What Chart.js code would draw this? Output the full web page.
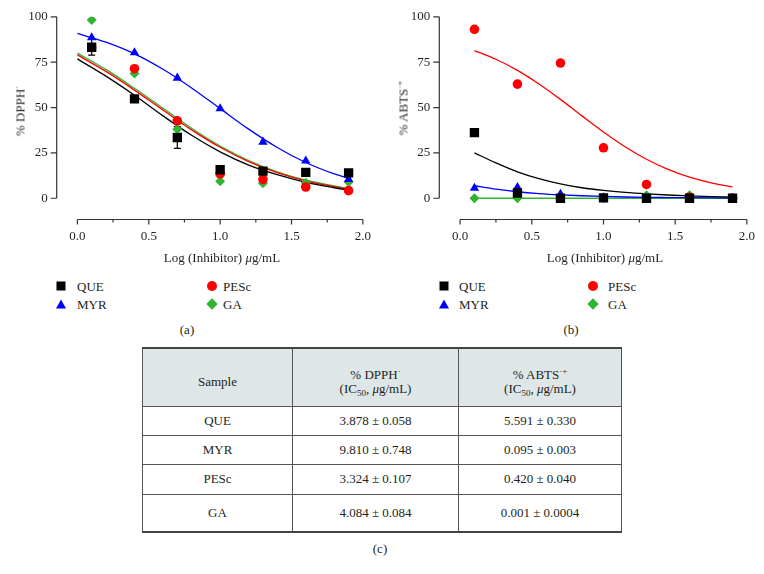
<!DOCTYPE html>
<html>
<head>
<meta charset="utf-8">
<script src="https://cdn.jsdelivr.net/npm/chart.js@4.4.0/dist/chart.umd.min.js"></script>
<style>
  body { margin: 0; width: 764px; height: 574px; position: relative; overflow: hidden; background: #fff;
         font-family: "Liberation Serif", "DejaVu Serif", serif; color: #231f20; }
  canvas { position: absolute; top: 0; }
  .t { position: absolute; white-space: nowrap; font-size: 13px; line-height: 1; }
  .c { transform: translate(-50%, -50%); }
  .l { transform: translateY(-50%); }
  .rot { transform: translate(-50%, -50%) rotate(-90deg); }
  sup { font-size: 9px; line-height: 0; vertical-align: 5px; }
  sub { font-size: 9px; line-height: 0; vertical-align: -3px; }
  .mk { position: absolute; }
  .sq { width: 9px; height: 9px; background: #000; transform: translate(-50%, -50%); }
  .ci { width: 10px; height: 10px; border-radius: 50%; background: #ff0000; transform: translate(-50%, -50%); }
  .tr { width: 0; height: 0; border-left: 5px solid transparent; border-right: 5px solid transparent;
        border-bottom: 9px solid #0000ff; transform: translate(-50%, -50%); }
  .di { width: 8px; height: 8px; background: #2fb52f; transform: translate(-50%, -50%) rotate(45deg); }
  table { position: absolute; left: 142px; top: 347px; width: 479px; border-collapse: collapse;
          font-size: 13px; text-align: center; table-layout: fixed; }
  th, td { border: 1px solid #555; padding: 0; font-weight: normal; }
  thead tr { background: #dfe6e8; height: 58px; }
  th { padding-top: 10px; line-height: 14px; }
  thead tr th { border-top: 2px solid #444; }
  tbody tr:last-child td { border-bottom: 2px solid #444; }
</style>
</head>
<body>
<canvas id="chartA" width="380" height="250" style="left:0"></canvas>
<canvas id="chartB" width="382" height="250" style="left:382px"></canvas>

<div class="t rot" style="left:20px; top:111px">% DPPH<sup>·</sup></div>
<div class="t rot" style="left:403px; top:108px">% ABTS<sup>·+</sup></div>
<div class="t c" style="left:222px; top:257px">Log (Inhibitor) <i>μ</i>g/mL</div>
<div class="t c" style="left:605px; top:257px">Log (Inhibitor) <i>μ</i>g/mL</div>

<div class="mk sq" style="left:61px; top:286px"></div><div class="t l" style="left:77px; top:286px">QUE</div>
<div class="mk tr" style="left:61px; top:304px"></div><div class="t l" style="left:77px; top:304px">MYR</div>
<div class="mk ci" style="left:212px; top:286px"></div><div class="t l" style="left:223px; top:286px">PESc</div>
<div class="mk di" style="left:212px; top:304px"></div><div class="t l" style="left:223px; top:304px">GA</div>

<div class="mk sq" style="left:444px; top:286px"></div><div class="t l" style="left:459px; top:286px">QUE</div>
<div class="mk tr" style="left:444px; top:304px"></div><div class="t l" style="left:459px; top:304px">MYR</div>
<div class="mk ci" style="left:593px; top:286px"></div><div class="t l" style="left:608px; top:286px">PESc</div>
<div class="mk di" style="left:593px; top:304px"></div><div class="t l" style="left:608px; top:304px">GA</div>

<div class="t c" style="left:187px; top:329px">(a)</div>
<div class="t c" style="left:571px; top:329px">(b)</div>

<table>
  <colgroup><col style="width:150px"><col style="width:166px"><col style="width:163px"></colgroup>
  <thead>
    <tr>
      <th>Sample</th>
      <th>% DPPH<sup>·</sup><br>(IC<sub>50</sub>, <i>μ</i>g/mL)</th>
      <th>% ABTS<sup>·+</sup><br>(IC<sub>50</sub>, <i>μ</i>g/mL)</th>
    </tr>
  </thead>
  <tbody id="tbody"></tbody>
</table>
<div class="t c" style="left:380px; top:548px">(c)</div>

<script>
// x positions of the measured points (log concentration)
const logDose = [0.1, 0.4, 0.7, 1.0, 1.3, 1.6, 1.9];

// (a) DPPH scavenging, %
const queDpph = [83.2, 54.8, 33.5, 15.7, 15.0, 14.3, 14.0];
const queDpphErr = [4.3, 0, 6.0, 0, 0, 0, 0];
const myrDpph = [88.5, 80.3, 66.3, 49.4, 31.0, 20.6, 10.5];
const pescDpph = [83.0, 71.4, 42.7, 13.4, 10.4, 6.2, 4.2];
const gaDpph = [98.3, 68.8, 38.0, 9.4, 8.3, 8.6, 9.0];

// (a) fitted curves
const fitXA = [0, 0.2, 0.4, 0.6, 0.8, 1.0, 1.2, 1.4, 1.6, 1.8, 1.9];
const queFitA = [76.8, 67.3, 56.8, 45.4, 34.7, 25.6, 18.3, 13.0, 8.8, 5.8, 4.5];
const myrFitA = [90.8, 86.0, 79.6, 71.1, 60.8, 49.4, 38.1, 28.0, 19.7, 13.4, 11.0];
const pescFitA = [79.0, 69.9, 59.6, 48.6, 37.7, 28.1, 20.2, 14.1, 9.6, 6.4, 5.0];
const gaFitA = [80.0, 71.0, 60.6, 49.6, 38.6, 28.8, 20.8, 14.6, 10.0, 6.8, 5.4];

// (b) ABTS scavenging, %
const queAbts = [36.2, 2.9, 0, 0.2, 0, 0, 0];
const myrAbts = [5.6, 6.0, 2.3, 0.4, 0, 0, 0];
const pescAbts = [93.1, 62.9, 74.5, 27.8, 7.6, 0.6, 0];
const gaAbts = [0, 0, 0, 0, 1.6, 1.6, 0];

// (b) fitted curves
const fitXB = [0.1, 0.25, 0.4, 0.55, 0.7, 0.85, 1.0, 1.15, 1.3, 1.45, 1.6, 1.75, 1.9];
const queFitB = [25.0, 19.5, 14.6, 10.8, 7.9, 5.8, 4.3, 3.2, 2.4, 1.8, 1.3, 0.9, 0.6];
const myrFitB = [6.9, 5.0, 3.6, 2.6, 1.9, 1.4, 1.0, 0.7, 0.5, 0.4, 0.3, 0.2, 0.1];
const pescFitB = [81.4, 76.6, 70.5, 63.0, 54.5, 45.4, 36.5, 28.4, 21.5, 15.9, 11.6, 8.5, 6.3];
const gaFitB = [0, 0, 0, 0, 0, 0, 0, 0, 0, 0, 0, 0, 0];

// axis ticks
const xTicks = [0, 0.5, 1.0, 1.5, 2.0];
const xMinorTicks = [0.25, 0.75, 1.25, 1.75];
const yTicks = [0, 25, 50, 75, 100];

// table (c)
const samples = ['QUE', 'MYR', 'PESc', 'GA'];
const ic50Dpph = ['3.878 ± 0.058', '9.810 ± 0.748', '3.324 ± 0.107', '4.084 ± 0.084'];
const ic50Abts = ['5.591 ± 0.330', '0.095 ± 0.003', '0.420 ± 0.040', '0.001 ± 0.0004'];

const rowHeights = [29, 29, 30, 38];
const tbody = document.getElementById('tbody');
samples.forEach((s, i) => {
  const tr = document.createElement('tr');
  tr.style.height = rowHeights[i] + 'px';
  [s, ic50Dpph[i], ic50Abts[i]].forEach(txt => {
    const td = document.createElement('td');
    td.textContent = txt;
    tr.appendChild(td);
  });
  tbody.appendChild(tr);
});

const BLACK = '#000000', RED = '#ff0000', BLUE = '#0000ff', GREEN = '#2fb52f';
const FONT = { family: '"Liberation Serif", "DejaVu Serif", serif', size: 13 };

const xy = (xs, ys) => xs.map((x, i) => ({ x: x, y: ys[i] }));

// offset (Prism-like) axes drawn from the scales
const prismAxes = {
  id: 'prismAxes',
  afterDraw(chart) {
    const { ctx, chartArea, scales: { x, y } } = chart;
    const ax = chartArea.left;
    const by = chartArea.bottom;
    ctx.save();
    ctx.strokeStyle = '#333';
    ctx.lineWidth = 1.2;
    ctx.beginPath();
    ctx.moveTo(ax, y.getPixelForValue(yTicks[0]));
    ctx.lineTo(ax, y.getPixelForValue(yTicks[yTicks.length - 1]));
    yTicks.forEach(v => {
      const py = y.getPixelForValue(v);
      ctx.moveTo(ax, py);
      ctx.lineTo(ax - 6, py);
    });
    ctx.moveTo(x.getPixelForValue(xTicks[0]), by);
    ctx.lineTo(x.getPixelForValue(xTicks[xTicks.length - 1]), by);
    xTicks.forEach(v => {
      const px = x.getPixelForValue(v);
      ctx.moveTo(px, by);
      ctx.lineTo(px, by + 5);
    });
    xMinorTicks.forEach(v => {
      const px = x.getPixelForValue(v);
      ctx.moveTo(px, by);
      ctx.lineTo(px, by + 3);
    });
    ctx.stroke();
    ctx.restore();
  }
};

// error bars for one dataset
const errorBars = {
  id: 'errorBars',
  beforeDatasetsDraw(chart, args, opts) {
    if (!opts.errors) return;
    const { ctx, scales: { x, y } } = chart;
    const pts = chart.data.datasets[opts.dataset].data;
    ctx.save();
    ctx.strokeStyle = opts.color;
    ctx.lineWidth = 1.2;
    ctx.beginPath();
    pts.forEach((p, i) => {
      const e = opts.errors[i];
      if (!e) return;
      const px = x.getPixelForValue(p.x);
      const top = y.getPixelForValue(p.y + e);
      const bot = y.getPixelForValue(p.y - e);
      ctx.moveTo(px, top); ctx.lineTo(px, bot);
      ctx.moveTo(px - 3.5, top); ctx.lineTo(px + 3.5, top);
      ctx.moveTo(px - 3.5, bot); ctx.lineTo(px + 3.5, bot);
    });
    ctx.stroke();
    ctx.restore();
  }
};

function pointSet(label, data, color, style, radius) {
  return {
    label: label, data: data, showLine: false,
    pointStyle: style, pointRadius: radius, pointHoverRadius: radius,
    pointBackgroundColor: color, pointBorderColor: color, pointBorderWidth: 0
  };
}

function curveSet(data, color) {
  return {
    data: data, showLine: true, borderColor: color, borderWidth: 1.3,
    pointRadius: 0, cubicInterpolationMode: 'monotone'
  };
}

function makeChart(id, yWidth, padRight, datasets, errOpts) {
  return new Chart(document.getElementById(id), {
    type: 'scatter',
    data: { datasets: datasets },
    options: {
      responsive: false,
      animation: false,
      devicePixelRatio: 1,
      layout: { padding: { left: 0, right: padRight, top: 14, bottom: 0 } },
      scales: {
        x: {
          type: 'linear', min: -0.145, max: 2.0,
          border: { display: false },
          grid: { display: false, drawTicks: false },
          afterBuildTicks: s => { s.ticks = xTicks.map(v => ({ value: v })); },
          afterFit: s => { s.height = 30.5; },
          ticks: { font: FONT, color: '#231f20', padding: 9, maxRotation: 0,
                   callback: v => Number(v).toFixed(1) }
        },
        y: {
          min: -11.7, max: 100,
          border: { display: false },
          grid: { display: false, drawTicks: false },
          afterBuildTicks: s => { s.ticks = yTicks.map(v => ({ value: v })); },
          afterFit: s => { s.width = yWidth; },
          ticks: { font: FONT, color: '#231f20', padding: 9 }
        }
      },
      plugins: {
        legend: { display: false },
        tooltip: { enabled: false },
        errorBars: errOpts || {}
      }
    },
    plugins: [prismAxes, errorBars]
  });
}

makeChart('chartA', 56.7, 14, [
  pointSet('QUE', xy(logDose, queDpph), BLACK, 'rect', 6.6),
  pointSet('PESc', xy(logDose, pescDpph), RED, 'circle', 4.8),
  pointSet('MYR', xy(logDose, myrDpph), BLUE, 'triangle', 5.4),
  pointSet('GA', xy(logDose, gaDpph), GREEN, 'rectRot', 5),
  curveSet(xy(fitXA, queFitA), BLACK),
  curveSet(xy(fitXA, pescFitA), RED),
  curveSet(xy(fitXA, gaFitA), GREEN),
  curveSet(xy(fitXA, myrFitA), BLUE)
], { dataset: 0, errors: queDpphErr, color: BLACK });

makeChart('chartB', 57.3, 15.7, [
  pointSet('QUE', xy(logDose, queAbts), BLACK, 'rect', 6.6),
  pointSet('PESc', xy(logDose, pescAbts), RED, 'circle', 4.8),
  pointSet('MYR', xy(logDose, myrAbts), BLUE, 'triangle', 5.4),
  pointSet('GA', xy(logDose, gaAbts), GREEN, 'rectRot', 5),
  curveSet(xy(fitXB, queFitB), BLACK),
  curveSet(xy(fitXB, myrFitB), BLUE),
  curveSet(xy(fitXB, pescFitB), RED),
  curveSet(xy(fitXB, gaFitB), GREEN)
]);
</script>
</body>
</html>
